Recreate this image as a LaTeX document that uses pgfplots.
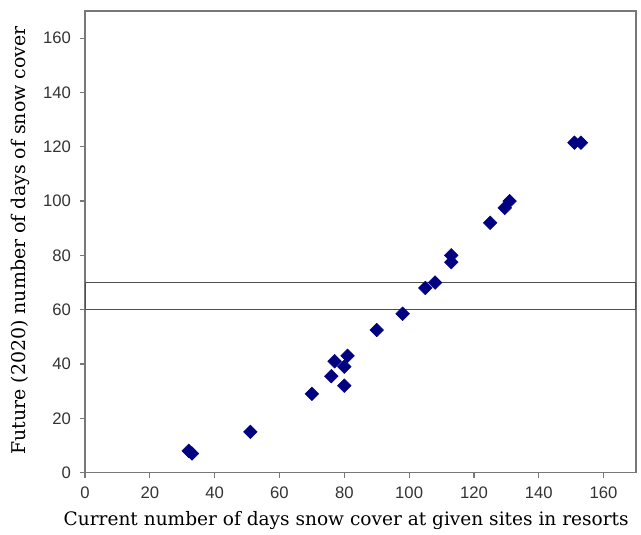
\documentclass[border=0pt]{standalone}
\usepackage{pgfplots}
\pgfplotsset{compat=1.18}
\usepackage{fontspec}
\setmainfont{DejaVu Serif}
\newfontfamily\ticksf{Liberation Sans}
\definecolor{navymark}{RGB}{0,0,128}
\definecolor{axgray}{RGB}{120,120,120}
\definecolor{bandgray}{RGB}{80,80,80}
\begin{document}
\begin{tikzpicture}
\begin{axis}[
  name=ax,
  scale only axis,
  width=413pt, height=346pt,
  xmin=0, xmax=170, ymin=0, ymax=170,
  xtick={0,20,...,160}, ytick={0,20,...,160},
  axis line style={axgray, line width=0.9pt},
  tick style={axgray, line width=0.9pt},
  tick align=outside, tick pos=left,
  major tick length=4pt,
  /pgf/number format/assume math mode=true,
  ticklabel style={font=\ticksf\fontsize{12.5}{14}\selectfont, text=black!80},
  xticklabel style={yshift=-3pt},
  yticklabel style={xshift=-3pt},
  xlabel={Current number of days snow cover at given sites in resorts},
  ylabel={Future (2020) number of days of snow cover},
  label style={font=\fontsize{14.2}{16}\selectfont},
  xlabel style={at={(axis description cs:0.474,-0.104)}, anchor=center, font=\fontsize{13.9}{16}\selectfont},
  ylabel style={at={(axis description cs:-0.118,0.503)}, anchor=center},
]
\draw[bandgray, line width=1pt] (axis cs:0,60) rectangle (axis cs:170,70);
\addplot[only marks, mark=square*, mark size=3.6pt, navymark,
  mark options={rotate=45, fill=navymark, draw=navymark}]
coordinates {
(32,8) (33,7) (51,15) (70,29) (76,35.5) (80,32) (77,41) (80,39) (81,43)
(90,52.5) (98,58.5) (105,68) (108,70) (113,80) (113,77.5) (125,92)
(129.5,97.5) (131,100) (151,121.5) (153,121.5)
};
\end{axis}
\pgfresetboundingbox
\path[use as bounding box] ([shift={(-63.75pt,-46.5pt)}]ax.south west) rectangle ([shift={(3.75pt,8.25pt)}]ax.north east);
\end{tikzpicture}
\end{document}
